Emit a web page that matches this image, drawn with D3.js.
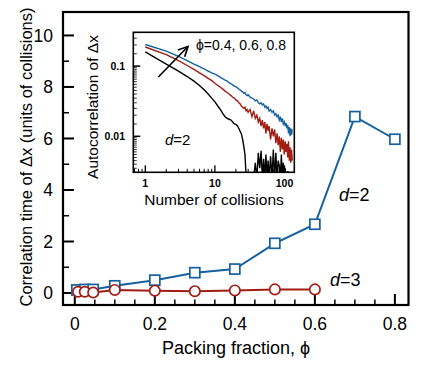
<!DOCTYPE html>
<html><head><meta charset="utf-8">
<script src="https://cdn.jsdelivr.net/npm/d3@7"></script>
<style>
body{margin:0;background:#fff;}
svg{display:block;font-family:"Liberation Sans",Arial,Helvetica,sans-serif;}
</style></head>
<body><svg id="c" width="421" height="369"></svg>
<script>
// ---- main panel data ----
const phi2 = [0.005, 0.025, 0.046, 0.1, 0.2, 0.3, 0.4, 0.5, 0.6, 0.7, 0.8];
const tau2 = [0.12, 0.14, 0.14, 0.28, 0.50, 0.79, 0.93, 1.93, 2.67, 6.85, 5.97];
const phi3 = [0.008, 0.025, 0.046, 0.1, 0.2, 0.3, 0.4, 0.5, 0.6];
const tau3 = [0.05, 0.05, 0.02, 0.12, 0.09, 0.07, 0.10, 0.14, 0.14];
const xMajor = [0, 0.2, 0.4, 0.6, 0.8];
const xMajorLabels = ["0", "0.2", "0.4", "0.6", "0.8"];
const xMinor = [0.05,0.1,0.15,0.25,0.3,0.35,0.45,0.5,0.55,0.65,0.7,0.75];
const yMajor = [0, 2, 4, 6, 8, 10];
const yMinor = [1, 3, 5, 7, 9];

// ---- inset data (autocorrelation vs number of collisions) ----
const nColl = [1,2,3,4,5,6,7,8,9,10,11,12,13,14,15,16,17,18,19,20,21,22,23,24,25,26,27,28,29,30,
  32,34,36,38,40,42,44,46,48,50,52,54,56,58,60,
  63,66,69,72,75,78,81,84,87,90,93,96,99,102,105,108,111,114,117,120,123,126,129];
const acf08 = [.203,.163,.138,.120,.107,.098,.091,.085,.080,.077,.073,.069,.066,.063,.061,.058,.056,.054,.052,.051,.049,.047,.046,.044,.043,.041,.042,.039,.038,.039,
  .036,.035,.034,.032,.033,.030,.029,.030,.028,.029,.026,.027,.025,.026,.023,
  .024,.022,.023,.020,.021,.019,.020,.017,.019,.016,.018,.015,.016,.014,.0155,.013,.0145,.011,.0135,.010,.013,.0105,.0125];
const acf06 = [.187,.146,.120,.102,.090,.080,.073,.067,.062,.057,.053,.050,.047,.044,.042,.040,.038,.036,.035,.033,.032,.030,.029,.027,.026,.025,.026,.023,.024,.022,
  .024,.019,.023,.018,.020,.016,.018,.014,.017,.013,.016,.011,.015,.012,.014,
  .009,.013,.010,.0125,.008,.011,.0075,.010,.006,.0095,.0065,.009,.0055,.0085,.006,.0078,.005,.0085,.0045,.007,.0042,.0065,.0045];
const acf04 = [.159,.107,.085,.071,.061,.053,.046,.040,.035,.031,.027,.024,.021,.019,.018,.0175,.017,.016,.015,.0148,.0142,.013,.0118,.0108,.009,.0072,.0055,.0028,.001,-.002,
  -.001,-.003,.0015,.0042,-.002,.0058,.0035,.0062,-.001,.0048,.002,.0055,-.002,.0045,.0025,
  .0052,-.001,.0065,.002,.0058,-.002,.0045,.0038,-.001,.0055,.002,.0042,-.002,.0035,.001,-.003,.0032,-.001,-.002,.0018,-.003,-.002,-.001];
const insetXTicks = [1, 10, 100];
const insetXLabels = ["1", "10", "100"];
const insetYTicks = [0.01, 0.1];
const insetYLabels = ["0.01", "0.1"];

const BLUE = "#16609f", RED = "#a11d12";
const svg = d3.select("#c");

// main scales
const x = d3.scaleLinear().domain([-0.0295, 0.834]).range([63, 408.5]);
const y = d3.scaleLinear().domain([-0.465, 10.91]).range([305, 12]);
const [fx0, fx1] = x.range(), [fy1, fy0] = y.range();

// ticks (inward)
const g = svg.append("g");
g.selectAll(".xt").data(xMajor).join("line").attr("x1", d => x(d)).attr("x2", d => x(d))
  .attr("y1", fy1).attr("y2", fy1 - 11).attr("stroke", "#000").attr("stroke-width", 2);
g.selectAll(".xm").data(xMinor).join("line").attr("x1", d => x(d)).attr("x2", d => x(d))
  .attr("y1", fy1).attr("y2", fy1 - 5.5).attr("stroke", "#000").attr("stroke-width", 1.5);
g.selectAll(".yt").data(yMajor).join("line").attr("y1", d => y(d)).attr("y2", d => y(d))
  .attr("x1", fx0).attr("x2", fx0 + 11).attr("stroke", "#000").attr("stroke-width", 2);
g.selectAll(".ym").data(yMinor).join("line").attr("y1", d => y(d)).attr("y2", d => y(d))
  .attr("x1", fx0).attr("x2", fx0 + 6).attr("stroke", "#000").attr("stroke-width", 1.5);
g.selectAll(".xl").data(xMajor).join("text").attr("x", d => x(d)).attr("y", 330)
  .attr("text-anchor", "middle").attr("font-size", 17.5).text((d, i) => xMajorLabels[i]);
g.selectAll(".yl").data(yMajor).join("text").attr("x", 53).attr("y", d => y(d)).attr("dy", "0.36em")
  .attr("text-anchor", "end").attr("font-size", 17.5).text(d => d);

svg.append("rect").attr("x", fx0).attr("y", fy0).attr("width", fx1 - fx0).attr("height", fy1 - fy0)
  .attr("fill", "none").attr("stroke", "#000").attr("stroke-width", 2.2);

svg.append("text").attr("x", 236).attr("y", 354).attr("text-anchor", "middle").attr("font-size", 18)
  .text("Packing fraction, \u03D5");
svg.append("text").attr("transform", "translate(32,157) rotate(-90)").attr("text-anchor", "middle")
  .attr("font-size", 16.5).text("Correlation time of \u0394x (units of collisions)");

// series
const line = d3.line();
const pts2 = phi2.map((p, i) => [x(p), y(tau2[i])]);
const pts3 = phi3.map((p, i) => [x(p), y(tau3[i])]);
svg.append("path").attr("d", line(pts2)).attr("fill", "none").attr("stroke", BLUE).attr("stroke-width", 2);
svg.append("path").attr("d", line(pts3)).attr("fill", "none").attr("stroke", RED).attr("stroke-width", 2);
svg.selectAll(".sq").data(pts2).join("rect").attr("x", d => d[0] - 5).attr("y", d => d[1] - 5)
  .attr("width", 10).attr("height", 10).attr("fill", "#fff").attr("stroke", BLUE).attr("stroke-width", 1.7);
svg.selectAll(".ci").data(pts3).join("circle").attr("cx", d => d[0]).attr("cy", d => d[1]).attr("r", 5.2)
  .attr("fill", "#fff").attr("stroke", RED).attr("stroke-width", 1.7);

const lab = (xx, yy, n, fs) => {
  const t = svg.append("text").attr("x", xx).attr("y", yy).attr("font-size", fs);
  t.append("tspan").attr("font-style", "italic").text("d");
  t.append("tspan").text("=" + n);
};
lab(339, 201, 2, 18);
lab(330, 286, 3, 18);

// ---- inset ----
const ix = d3.scaleLog().domain([0.673, 138]).range([133.3, 294.3]);
const iy = d3.scaleLog().domain([0.00307, 0.303]).range([172.3, 32.3]);
const [ix0, ix1] = ix.range(), [iy1, iy0] = iy.range();
svg.append("rect").attr("x", ix0).attr("y", iy0).attr("width", ix1 - ix0).attr("height", iy1 - iy0).attr("fill", "#fff");
svg.append("clipPath").attr("id", "ic").append("rect").attr("x", ix0).attr("y", iy0)
  .attr("width", ix1 - ix0).attr("height", iy1 - iy0);
const ig = svg.append("g").attr("clip-path", "url(#ic)");
const lo = 0.0025;
const il = d3.line().x((d, i) => ix(nColl[i])).y(d => iy(Math.max(d, lo)));
ig.append("path").attr("d", il(acf04)).attr("fill", "none").attr("stroke", "#000").attr("stroke-width", 1.4);
ig.append("path").attr("d", il(acf06)).attr("fill", "none").attr("stroke", RED).attr("stroke-width", 1.4);
ig.append("path").attr("d", il(acf08)).attr("fill", "none").attr("stroke", BLUE).attr("stroke-width", 1.4);

// inset ticks
const xMinorI = [];
[0.1, 1, 10, 100].forEach(b => { for (let k = 2; k < 10; k++) { const v = b * k; if (v > 0.673 && v < 138) xMinorI.push(v); } });
const yMinorI = [];
[0.001, 0.01, 0.1].forEach(b => { for (let k = 1.5; k < 10; k += 0.5) { const v = b * k; if (v > 0.00307 && v < 0.303) yMinorI.push(v); } });
svg.selectAll(".ixt").data(xMinorI).join("line").attr("x1", d => ix(d)).attr("x2", d => ix(d))
  .attr("y1", iy1).attr("y2", iy1 - 3.5).attr("stroke", "#000").attr("stroke-width", 1);
svg.selectAll(".iyt").data(yMinorI).join("line").attr("y1", d => iy(d)).attr("y2", d => iy(d))
  .attr("x1", ix0).attr("x2", ix0 + 3.5).attr("stroke", "#000").attr("stroke-width", 0.8);
svg.selectAll(".iyM").data(insetYTicks).join("line").attr("y1", d => iy(d)).attr("y2", d => iy(d))
  .attr("x1", ix0).attr("x2", ix0 + 7).attr("stroke", "#000").attr("stroke-width", 1.5);
svg.selectAll(".ixM").data(insetXTicks).join("line").attr("x1", d => ix(d)).attr("x2", d => ix(d))
  .attr("y1", iy1).attr("y2", iy1 - 7).attr("stroke", "#000").attr("stroke-width", 1.3);
svg.append("rect").attr("x", ix0).attr("y", iy0).attr("width", ix1 - ix0).attr("height", iy1 - iy0)
  .attr("fill", "none").attr("stroke", "#000").attr("stroke-width", 1.6);

svg.selectAll(".ixl").data(insetXTicks).join("text").attr("x", d => ix(d)).attr("y", 187)
  .attr("text-anchor", "middle").attr("font-size", 10.5).attr("font-weight", "bold").text((d, i) => insetXLabels[i]);
svg.selectAll(".iyl").data(insetYTicks).join("text").attr("x", 125).attr("y", d => iy(d)).attr("dy", "0.36em")
  .attr("text-anchor", "end").attr("font-size", 10.5).attr("font-weight", "bold").text((d, i) => insetYLabels[i]);
svg.append("text").attr("x", 214).attr("y", 205).attr("text-anchor", "middle").attr("font-size", 15.5)
  .text("Number of collisions");
svg.append("text").attr("transform", "translate(98,107) rotate(-90)").attr("text-anchor", "middle")
  .attr("font-size", 15.5).text("Autocorrelation of \u0394x");

svg.append("text").attr("x", 196).attr("y", 50).attr("font-size", 14).text("\u03D5=0.4, 0.6, 0.8");
const it = svg.append("text").attr("x", 165).attr("y", 145).attr("font-size", 15);
it.append("tspan").attr("font-style", "italic").text("d");
it.append("tspan").text("=2");

// arrow
svg.append("defs").append("marker").attr("id", "ah").attr("viewBox", "0 0 10 10").attr("refX", 9).attr("refY", 5)
  .attr("markerWidth", 7.5).attr("markerHeight", 7.5).attr("orient", "auto").attr("markerUnits", "strokeWidth")
  .append("path").attr("d", "M1,1 L9,5 L1,9").attr("fill", "none").attr("stroke", "#000").attr("stroke-width", 1.4);
svg.append("line").attr("x1", ix(1.54)).attr("y1", iy(0.07)).attr("x2", ix(4.1)).attr("y2", iy(0.19))
  .attr("stroke", "#000").attr("stroke-width", 1.6).attr("marker-end", "url(#ah)");
</script></body></html>
